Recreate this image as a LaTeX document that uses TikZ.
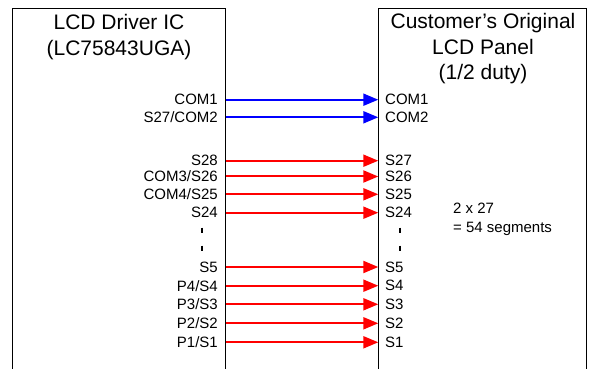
\documentclass[tikz,border=0pt]{standalone}
\usepackage{fontspec}
\setmainfont{Liberation Sans}
\usetikzlibrary{arrows.meta}
\begin{document}
\begin{tikzpicture}[x=1pt,y=-1pt,
  boxline/.style={line width=1.4pt,black},
  title/.style={font=\fontsize{21}{26}\selectfont,align=center,inner sep=0pt},
  pinL/.style={font=\fontsize{15}{17}\selectfont,anchor=east,inner sep=0pt},
  pinR/.style={font=\fontsize{15}{17}\selectfont,anchor=west,inner sep=0pt},
  note/.style={font=\fontsize{15}{18}\selectfont,anchor=west,inner sep=0pt,align=left},
  comarrow/.style={line width=2pt,blue,-{Triangle[length=15pt,width=12pt]}},
  segarrow/.style={line width=2pt,red,-{Triangle[length=15pt,width=12pt]}},
  tick/.style={line width=1.3pt,black}]
\useasboundingbox (0,0) rectangle (590,369);
\clip (0,0) rectangle (590,369);
% boxes
\draw[boxline] (12.7,375) -- (12.7,8.3) -- (225.7,8.3) -- (225.7,375);
\draw[boxline] (378.3,375) -- (378.3,8.3) -- (586.5,8.3) -- (586.5,375);
% titles
\node[title,anchor=base] (tl1) at (119,30) {LCD Driver IC};
\node[title,anchor=base] (tl2) at (119,56) {(LC75843UGA)};
\node[title,anchor=base] (tr1) at (483,29) {Customer’s Original};
\node[title,anchor=base] (tr2) at (483,55) {LCD Panel};
\node[title,anchor=base] (tr3) at (483,80) {(1/2 duty)};
% pins
\foreach \n/\y/\l/\r/\s in {
  1/99.7/COM1/COM1/comarrow,
  2/117.3/S27\slash COM2/COM2/comarrow,
  3/160.7/S28/S27/segarrow,
  4/176.5/COM3\slash S26/S26/segarrow,
  5/194.3/COM4\slash S25/S25/segarrow,
  6/212.7/S24/S24/segarrow,
  7/267/S5/S5/segarrow,
  8/285.7/P4\slash S4/S4/segarrow,
  9/304.3/P3\slash S3/S3/segarrow,
  10/323.3/P2\slash S2/S2/segarrow,
  11/342.3/P1\slash S1/S1/segarrow}{
  \coordinate (L\n) at (225.7,\y);
  \coordinate (R\n) at (378.3,\y);
  \node[pinL] (lab\n) at (218,\y) {\l};
  \node[pinR] (rab\n) at (385,\y) {\r};
  \draw[\s] (L\n) -- (R\n);
}
% continuation ticks
\coordinate (tla) at (202,227.5); \coordinate (tlb) at (202,232.5);
\coordinate (tlc) at (202,245.5); \coordinate (tld) at (202,250.5);
\coordinate (tra) at (400,227.5); \coordinate (trb) at (400,232.5);
\coordinate (trc) at (400,245.5); \coordinate (trd) at (400,250.5);
\draw[tick] (tla) -- (tlb); \draw[tick] (tlc) -- (tld);
\draw[tick] (tra) -- (trb); \draw[tick] (trc) -- (trd);
% note
\node[note,anchor=base west] (n1) at (453,213) {2 x 27};
\node[note,anchor=base west] (n2) at (453,232) {= 54 segments};
\end{tikzpicture}
\end{document}
